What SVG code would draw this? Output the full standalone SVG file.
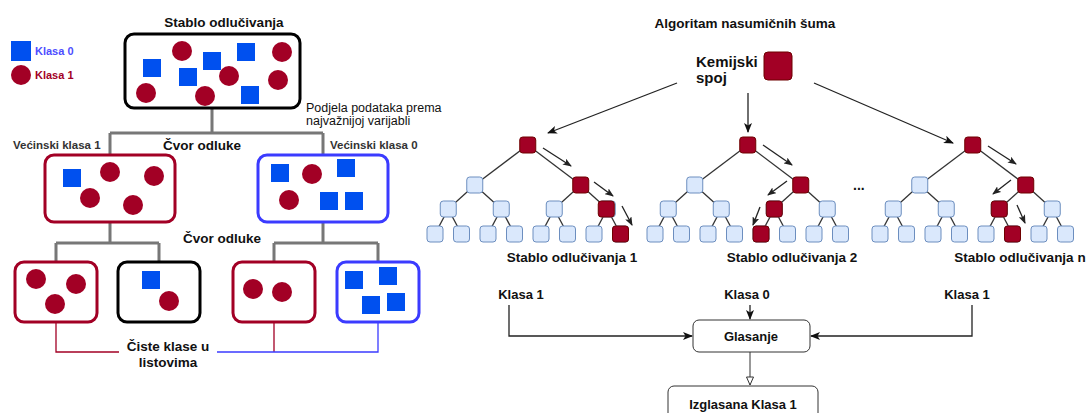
<svg xmlns="http://www.w3.org/2000/svg" width="1088" height="413" viewBox="0 0 1088 413">
<style>
text{font-family:"Liberation Sans",Arial,sans-serif;fill:#111}
.b{font-weight:bold}
.t{font-size:13.5px;font-weight:bold;text-anchor:middle}
.sq{fill:#0050ef}
.ci{fill:#a20025}
.box{fill:#fff;stroke-width:3}
.gl{stroke:#777;stroke-width:3;fill:none}
.tn{fill:#dae8fc;stroke:#6c8ebf;stroke-width:1}
.tr{fill:#a20025;stroke:#6f0000;stroke-width:1}
.te{stroke:#333;stroke-width:1.3}
.ar{stroke:#222;stroke-width:1.3;fill:none}
</style>
<defs>
<marker id="ah" markerUnits="userSpaceOnUse" markerWidth="10" markerHeight="8" refX="9" refY="4" orient="auto"><path d="M0,0 L10,4 L0,8 L2.5,4 Z" fill="#111"/></marker>
<marker id="ahs" markerUnits="userSpaceOnUse" markerWidth="9" markerHeight="7" refX="8" refY="3.5" orient="auto"><path d="M0,0 L9,3.5 L0,7 L2,3.5 Z" fill="#222"/></marker>
<marker id="aho" markerUnits="userSpaceOnUse" markerWidth="10" markerHeight="10" refX="9" refY="4" orient="auto"><path d="M1,0.5 L9,4 L1,7.5 Z" fill="#fff" stroke="#333" stroke-width="1"/></marker>
<g id="tree">
<g class="te">
<line x1="92.75" y1="145" x2="39.75" y2="185"/><line x1="92.75" y1="145" x2="145.75" y2="185"/>
<line x1="39.75" y1="185" x2="13.25" y2="209"/><line x1="39.75" y1="185" x2="66.25" y2="209"/>
<line x1="145.75" y1="185" x2="119.25" y2="209"/><line x1="145.75" y1="185" x2="172.25" y2="209"/>
<line x1="13.25" y1="209" x2="0" y2="234"/><line x1="13.25" y1="209" x2="26.5" y2="234"/>
<line x1="66.25" y1="209" x2="53" y2="234"/><line x1="66.25" y1="209" x2="79.5" y2="234"/>
<line x1="119.25" y1="209" x2="106" y2="234"/><line x1="119.25" y1="209" x2="132.5" y2="234"/>
<line x1="172.25" y1="209" x2="159" y2="234"/><line x1="172.25" y1="209" x2="185.5" y2="234"/>
</g>
<g class="tn">
<rect x="31.75" y="177" width="16" height="16" rx="3"/>
<rect x="5.25" y="201" width="16" height="16" rx="3"/><rect x="58.25" y="201" width="16" height="16" rx="3"/><rect x="111.25" y="201" width="16" height="16" rx="3"/><rect x="164.25" y="201" width="16" height="16" rx="3"/>
<rect x="-8" y="226" width="16" height="16" rx="3"/><rect x="18.5" y="226" width="16" height="16" rx="3"/><rect x="45" y="226" width="16" height="16" rx="3"/><rect x="71.5" y="226" width="16" height="16" rx="3"/>
<rect x="98" y="226" width="16" height="16" rx="3"/><rect x="124.5" y="226" width="16" height="16" rx="3"/><rect x="151" y="226" width="16" height="16" rx="3"/><rect x="177.5" y="226" width="16" height="16" rx="3"/>
</g>
<g class="tr">
<rect x="84.75" y="137" width="16" height="16" rx="3"/>
<rect x="137.75" y="177" width="16" height="16" rx="3"/>
</g>
</g>
</defs>

<!-- Left: decision tree -->
<text class="t" x="224" y="27">Stablo odlučivanja</text>
<g id="legend">
<rect class="sq" x="11" y="41" width="20" height="20"/>
<text class="b" x="35" y="55" style="font-size:11px;fill:#4d4dff">Klasa 0</text>
<circle class="ci" cx="21" cy="75" r="10"/>
<text class="b" x="35" y="79" style="font-size:11px;fill:#a20025">Klasa 1</text>
</g>

<g id="connectors-left">
<path class="gl" d="M212,108 V133 M110,133 H323 M110,133 V155 M323,133 V155"/>
<path class="gl" d="M110,222 V243 M323,222 V243 M56,243 H159 M274,243 H378 M56,243 V262 M159,243 V262 M274,243 V262 M378,243 V262"/>
<path d="M56,322 V352 H119 M274,322 V352" fill="none" stroke="#a20025" stroke-width="1.3"/>
<path d="M217,352 H378 V322" fill="none" stroke="#3b3bff" stroke-width="1.3"/>
</g>

<g id="root-box">
<rect class="box" x="125" y="34" width="175" height="74" rx="9" stroke="#000"/>
<circle class="ci" cx="182" cy="51" r="10"/>
<rect class="sq" x="143" y="59" width="18" height="18"/>
<rect class="sq" x="203" y="52" width="18" height="18"/>
<rect class="sq" x="237" y="43" width="18" height="18"/>
<circle class="ci" cx="282" cy="52" r="10"/>
<rect class="sq" x="179" y="68" width="18" height="18"/>
<circle class="ci" cx="229" cy="76" r="10"/>
<circle class="ci" cx="278" cy="80" r="10"/>
<circle class="ci" cx="146" cy="93" r="10"/>
<circle class="ci" cx="205" cy="96" r="10"/>
<rect class="sq" x="241" y="86" width="18" height="18"/>
</g>
<text x="306" y="112" style="font-size:12.5px">Podjela podataka prema</text>
<text x="306" y="125" style="font-size:12.5px">najvažnijoj varijabli</text>
<text class="b" x="13" y="149" style="font-size:11.5px;fill:#333">Većinski klasa 1</text>
<text class="t" x="202" y="150">Čvor odluke</text>
<text class="b" x="330" y="149" style="font-size:11.5px;fill:#333">Većinski klasa 0</text>

<g id="mid-left">
<rect class="box" x="45" y="155" width="130" height="67" rx="9" stroke="#a20025"/>
<rect class="sq" x="63" y="169" width="18" height="18"/>
<circle class="ci" cx="110" cy="172" r="10"/>
<circle class="ci" cx="154" cy="176" r="10"/>
<circle class="ci" cx="90" cy="198" r="10"/>
<circle class="ci" cx="133" cy="205" r="10"/>
</g>
<g id="mid-right">
<rect class="box" x="258" y="155" width="130" height="67" rx="9" stroke="#3b3bff"/>
<rect class="sq" x="271" y="164" width="18" height="18"/>
<circle class="ci" cx="312" cy="174" r="10"/>
<rect class="sq" x="337" y="159" width="18" height="18"/>
<circle class="ci" cx="289" cy="200" r="10"/>
<rect class="sq" x="320" y="192" width="18" height="18"/>
<rect class="sq" x="345" y="192" width="18" height="18"/>
</g>
<text class="t" x="222" y="243">Čvor odluke</text>

<g id="leaf-1">
<rect class="box" x="15" y="262" width="82" height="60" rx="9" stroke="#a20025"/>
<circle class="ci" cx="36" cy="279" r="10"/>
<circle class="ci" cx="76" cy="284" r="10"/>
<circle class="ci" cx="55" cy="304" r="10"/>
</g>
<g id="leaf-2">
<rect class="box" x="118" y="262" width="82" height="60" rx="9" stroke="#000"/>
<rect class="sq" x="142" y="271" width="18" height="18"/>
<circle class="ci" cx="169" cy="301" r="10"/>
</g>
<g id="leaf-3">
<rect class="box" x="233" y="262" width="82" height="60" rx="9" stroke="#a20025"/>
<circle class="ci" cx="253" cy="289" r="10"/>
<circle class="ci" cx="282" cy="292" r="10"/>
</g>
<g id="leaf-4">
<rect class="box" x="337" y="262" width="82" height="60" rx="9" stroke="#3b3bff"/>
<rect class="sq" x="345" y="271" width="18" height="18"/>
<rect class="sq" x="379" y="267" width="18" height="18"/>
<rect class="sq" x="362" y="296" width="18" height="18"/>
<rect class="sq" x="387" y="293" width="18" height="18"/>
</g>
<text class="t" x="168" y="351">Čiste klase u</text>
<text class="t" x="168" y="367">listovima</text>

<!-- Right: random forest -->
<text class="t" x="745" y="28">Algoritam nasumičnih šuma</text>
<g id="compound">
<text class="b" x="696" y="67" style="font-size:15px">Kemijski</text>
<text class="b" x="696" y="83" style="font-size:15px">spoj</text>
<rect x="764" y="52" width="28" height="28" rx="4" fill="#a20025" stroke="#6f0000" stroke-width="1"/>
</g>

<g id="tree-1">
<use href="#tree" transform="translate(435,0)"/>
<rect class="tr" x="598.25" y="201" width="16" height="16" rx="3"/>
<rect class="tr" x="612.5" y="226" width="16" height="16" rx="3"/>
</g>
<g id="tree-2">
<use href="#tree" transform="translate(655,0)"/>
<rect class="tr" x="766.25" y="201" width="16" height="16" rx="3"/>
<rect class="tr" x="753" y="226" width="16" height="16" rx="3"/>
</g>
<text class="b" x="853" y="190" style="font-size:14px">...</text>
<g id="tree-3">
<use href="#tree" transform="translate(880,0)"/>
<rect class="tr" x="991.25" y="201" width="16" height="16" rx="3"/>
<rect class="tr" x="1004.5" y="226" width="16" height="16" rx="3"/>
</g>
<text class="t" x="572" y="262">Stablo odlučivanja 1</text>
<text class="t" x="792" y="262">Stablo odlučivanja 2</text>
<text class="t" x="1020" y="262">Stablo odlučivanja n</text>

<g id="connectors-right">
<line class="ar" x1="677" y1="83" x2="548" y2="133" marker-end="url(#ah)"/>
<line class="ar" x1="748" y1="93" x2="748" y2="132" marker-end="url(#ah)"/>
<line class="ar" x1="814" y1="83" x2="953" y2="143" marker-end="url(#ah)"/>
<line class="ar" x1="543" y1="148" x2="571" y2="166" marker-end="url(#ahs)"/>
<line class="ar" x1="594" y1="182" x2="613" y2="196" marker-end="url(#ahs)"/>
<line class="ar" x1="622" y1="206" x2="632" y2="225" marker-end="url(#ahs)"/>
<line class="ar" x1="763" y1="145" x2="792" y2="165" marker-end="url(#ahs)"/>
<line class="ar" x1="787" y1="181" x2="768" y2="195" marker-end="url(#ahs)"/>
<line class="ar" x1="760" y1="207" x2="753" y2="225" marker-end="url(#ahs)"/>
<line class="ar" x1="988" y1="146" x2="1016" y2="164" marker-end="url(#ahs)"/>
<line class="ar" x1="1011" y1="180" x2="993" y2="194" marker-end="url(#ahs)"/>
<line class="ar" x1="1017" y1="205" x2="1025" y2="223" marker-end="url(#ahs)"/>
<path class="ar" d="M509,305 V336 H692" marker-end="url(#ah)"/>
<line class="ar" x1="750" y1="305" x2="750" y2="319" marker-end="url(#ah)"/>
<path class="ar" d="M972,305 V336 H811" marker-end="url(#ah)"/>
<line x1="750" y1="352" x2="750" y2="385" stroke="#333" stroke-width="1" marker-end="url(#aho)"/>
</g>

<text class="b" x="521" y="299" style="font-size:13px;text-anchor:middle">Klasa 1</text>
<text class="b" x="747" y="299" style="font-size:13px;text-anchor:middle">Klasa 0</text>
<text class="b" x="967" y="299" style="font-size:13px;text-anchor:middle">Klasa 1</text>

<g id="glasanje">
<rect x="693" y="320" width="117" height="32" rx="6" fill="#fff" stroke="#333" stroke-width="1"/>
<text class="b" x="751" y="341" style="font-size:13px;text-anchor:middle">Glasanje</text>
</g>
<g id="izglasana">
<rect x="668" y="386" width="150" height="34" rx="6" fill="#fff" stroke="#333" stroke-width="1"/>
<text class="b" x="743" y="409" style="font-size:13px;text-anchor:middle">Izglasana Klasa 1</text>
</g>
</svg>
